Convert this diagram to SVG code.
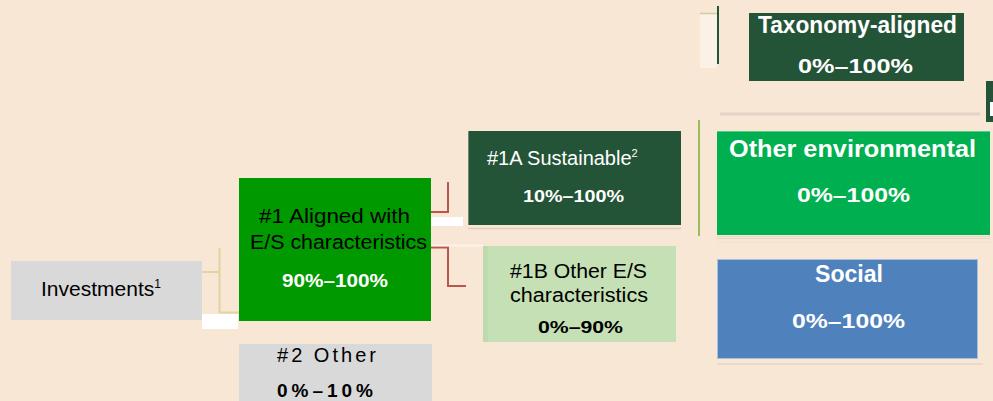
<svg xmlns="http://www.w3.org/2000/svg" width="993" height="401" viewBox="0 0 993 401">
<style>
  text { font-family: "Liberation Sans", Arial, sans-serif; }
  .b { font-weight: bold; }
  .w { fill: #FFFFFF; }
  .k { fill: #000000; }
  .tan { stroke: #E2D3A0; stroke-width: 2; fill: none; }
  .red { stroke: #B8574E; stroke-width: 2; fill: none; }
</style>
<rect x="0" y="0" width="993" height="401" fill="#F9E7D6"/>

<g id="connectors">
  <path class="tan" d="M202,272 H220 M219.5,248 V313 M219.5,312.5 H239"/>
  <rect x="202" y="314" width="36" height="15" fill="#FFFFFF"/>
  <path class="red" d="M431,212 H448 V182"/>
  <path class="red" d="M431,247.5 H448 V286 H466"/>
  <rect x="431" y="217" width="32" height="9" fill="#FFFFFF"/>
  <line x1="431" y1="245.5" x2="483" y2="245.5" stroke="#FDF6EF" stroke-width="1.5"/>
  <line x1="699" y1="120" x2="699" y2="236" stroke="#9BBB59" stroke-width="2"/>
  <rect x="700" y="13" width="17" height="55" fill="#FBF1E6"/>
  <line x1="700" y1="13.5" x2="718" y2="13.5" stroke="#C9D29A" stroke-width="1.5"/>
  <line x1="718" y1="6" x2="718" y2="64" stroke="#245437" stroke-width="2"/>
  <line x1="720" y1="114" x2="980" y2="114" stroke="#E4D4C5" stroke-width="3"/>
  <rect x="986" y="81" width="7" height="41" fill="#245437"/>
  <rect x="990" y="102" width="3" height="14" fill="#FFFFFF"/>
  <line x1="468" y1="228.5" x2="681" y2="228.5" stroke="#E0CDBB" stroke-width="1.5"/>
  <line x1="717" y1="236.5" x2="990" y2="236.5" stroke="#E6D6C6" stroke-width="1"/>
  <line x1="717" y1="238.5" x2="990" y2="238.5" stroke="#E6D6C6" stroke-width="1"/>
  <line x1="717" y1="242" x2="990" y2="242" stroke="#F2DECC" stroke-width="1"/>
  <line x1="717" y1="364" x2="983" y2="364" stroke="#E6D6C6" stroke-width="1.5"/>
</g>

<g id="investments">
  <rect x="11" y="261" width="191" height="59" fill="#D9D9D9"/>
  <text x="41" y="296" font-size="21" class="k">Investments<tspan font-size="12" dy="-8">1</tspan></text>
</g>

<g id="aligned">
  <rect x="239" y="178" width="192" height="143" fill="#009900"/>
  <text x="259" y="223" font-size="19.5" textLength="151" lengthAdjust="spacingAndGlyphs" class="k">#1 Aligned with</text>
  <text x="250" y="249" font-size="19.5" textLength="177" lengthAdjust="spacingAndGlyphs" class="k">E/S characteristics</text>
  <text x="282" y="287" font-size="19" textLength="106" lengthAdjust="spacingAndGlyphs" class="b w">90%–100%</text>
</g>

<g id="other2">
  <rect x="239" y="344" width="193" height="57" fill="#D9D9D9"/>
  <text x="277" y="362" font-size="20" textLength="99" lengthAdjust="spacing" class="k">#2 Other</text>
  <text x="277" y="397" font-size="19" textLength="96" lengthAdjust="spacing" class="b k">0%–10%</text>
</g>

<g id="sustainable">
  <rect x="468" y="131" width="213" height="94" fill="#245437"/>
  <line x1="468.5" y1="131" x2="468.5" y2="225" stroke="#6F8C73" stroke-width="1"/>
  <text x="487" y="165" font-size="20" class="w">#1A Sustainable<tspan font-size="11" dy="-8">2</tspan></text>
  <text x="523" y="202" font-size="16" textLength="101" lengthAdjust="spacingAndGlyphs" class="b w">10%–100%</text>
</g>

<g id="other-es">
  <rect x="483" y="246" width="193" height="96" fill="#C5E0B4"/>
  <rect x="483" y="246" width="5" height="96" fill="#BFDAAE"/>
  <text x="510" y="278" font-size="19.5" textLength="137" lengthAdjust="spacingAndGlyphs" class="k">#1B Other E/S</text>
  <text x="510" y="302" font-size="19.5" textLength="138" lengthAdjust="spacingAndGlyphs" class="k">characteristics</text>
  <text x="538" y="333" font-size="17" textLength="85" lengthAdjust="spacingAndGlyphs" class="b k">0%–90%</text>
</g>

<g id="taxonomy">
  <rect x="749" y="13" width="215" height="68" fill="#245437"/>
  <text x="758" y="33" font-size="23" textLength="199" lengthAdjust="spacingAndGlyphs" class="b w">Taxonomy-aligned</text>
  <text x="798" y="73" font-size="21" textLength="115" lengthAdjust="spacingAndGlyphs" class="b w">0%–100%</text>
</g>

<g id="environmental">
  <rect x="717" y="131" width="273" height="104" fill="#00B050"/>
  <line x1="717" y1="131.5" x2="990" y2="131.5" stroke="#5CC98C" stroke-width="1"/>
  <text x="729" y="157" font-size="23" textLength="247" lengthAdjust="spacingAndGlyphs" class="b w">Other environmental</text>
  <text x="797" y="202" font-size="21" textLength="113" lengthAdjust="spacingAndGlyphs" class="b w">0%–100%</text>
</g>

<g id="social">
  <rect x="717.5" y="259.5" width="260" height="99" fill="#4F81BD" stroke="#A9C0DC" stroke-width="1"/>
  <text x="815" y="282" font-size="23" textLength="68" lengthAdjust="spacingAndGlyphs" class="b w">Social</text>
  <text x="792" y="328" font-size="21" textLength="113" lengthAdjust="spacingAndGlyphs" class="b w">0%–100%</text>
</g>
</svg>
